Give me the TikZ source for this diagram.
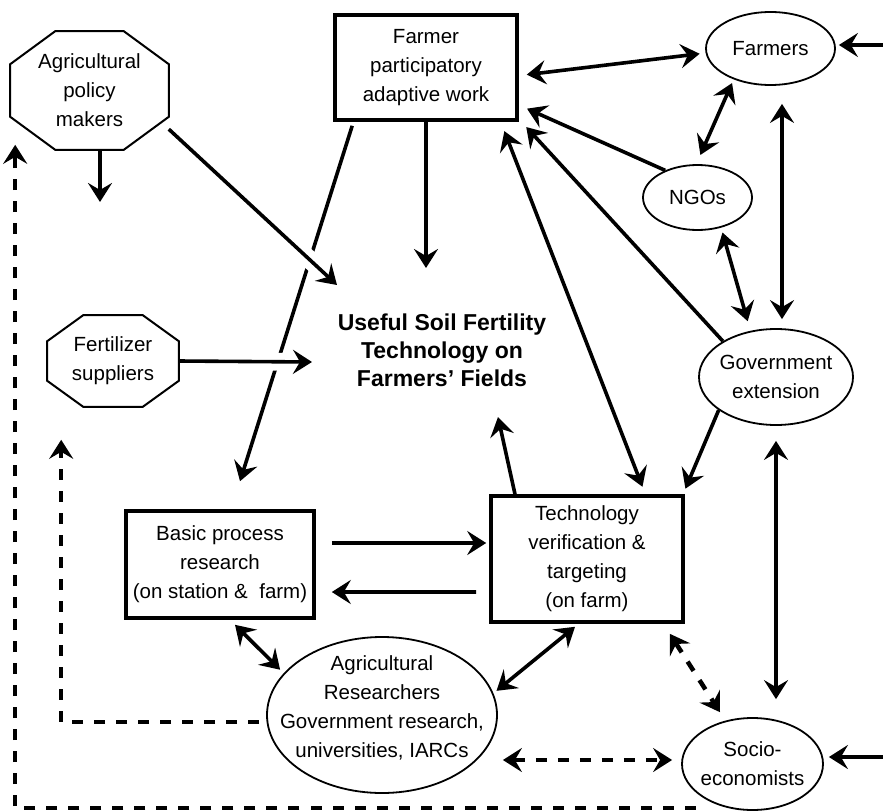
\documentclass[tikz,border=0pt]{standalone}
\usepackage{fontspec}
\setmainfont{Liberation Sans}
\usetikzlibrary{shapes.geometric,arrows.meta,calc}

\begin{document}
\begin{tikzpicture}[x=1bp, y=-1bp, line width=3.6bp,
    >={Stealth[length=19bp,width=24bp,inset=7bp]},
    every node/.style={font=\fontsize{20.5bp}{29bp}\selectfont, align=center, inner sep=0pt},
    box/.style={draw, line width=3.6bp},
    oval/.style={draw, ellipse, line width=1.8bp},
    dsh/.style={line width=4.5bp, dash pattern=on 11bp off 11bp},
    gap/.style={preaction={draw=white, line width=18bp, -, shorten <=24bp, shorten >=24bp}}]
\useasboundingbox (0,0) rectangle (883,811);
\coordinate (polout) at (100,202);
\coordinate (farmin) at (883,45);
\coordinate (socin) at (883,757);
% actors
\node[minimum width=155bp, minimum height=115bp] (pol) at (89.5,90.5) {Agricultural\\policy\\makers};
\node[minimum width=128bp, minimum height=88bp] (fert) at (113,361) {Fertilizer\\suppliers};
\node[box, minimum width=182bp, minimum height=105bp] (pw) at (426,67.5) {Farmer\\participatory\\adaptive work};
\node[oval, minimum width=129bp, minimum height=73bp, label={center:Farmers}] (farmers) at (770.5,48.5) {};
\node[oval, minimum width=109bp, minimum height=65bp, label={center:NGOs}] (ngos) at (697.5,197.5) {};
\node[oval, minimum width=154bp, minimum height=96bp, label={center:{Government\\extension}}] (gov) at (776,377) {};
\node[font=\bfseries\fontsize{23bp}{28bp}\selectfont] (useful) at (442,350) {Useful Soil Fertility\\Technology on\\Farmers’ Fields};
\node[box, minimum width=188bp, minimum height=107bp] (basic) at (220,564.5) {Basic process\\research\\(on station \&~ farm)};
\node[box, minimum width=192bp, minimum height=126bp] (tech) at (587,559) {Technology\\verification \&\\targeting\\(on farm)};
\node[oval, minimum width=230bp, minimum height=156bp, label={[yshift=7bp]center:{Agricultural\\Researchers\\Government research,\\universities, IARCs}}] (res) at (382,715) {};
\node[oval, minimum width=141bp, minimum height=92bp, label={center:{Socio-\\economists}}] (socio) at (752.5,764) {};
\foreach \oct/\dx/\dy in {pol/45/33, fert/36/26}
  \draw[line width=2bp] ($(\oct.north west)+(\dx,0)$) -- ($(\oct.north east)+(-\dx,0)$) -- ($(\oct.north east)+(0,\dy)$) -- ($(\oct.south east)+(0,-\dy)$) -- ($(\oct.south east)+(-\dx,0)$) -- ($(\oct.south west)+(\dx,0)$) -- ($(\oct.south west)+(0,-\dy)$) -- ($(\oct.north west)+(0,\dy)$) -- cycle;
% crossing lines
\draw[->] ($(pw.south west)+(19,4)$) -- ($(basic.north)+(20,-28)$);
\draw[->, gap] (pol.-26) -- ($(useful)+(-105,-65)$);
\draw[->, gap] (fert.east) -- ($(useful)+(-130,12)$);
% links
\draw[->] (pol.south -| polout) -- (polout);
\draw[->] (pw.south) -- ($(useful)+(-16,-82)$);
\draw[<->, shorten <=8bp, shorten >=6bp] (pw.-5) -- (farmers.184);
\draw[->, shorten >=9bp] (ngos.140) -- (pw.-22);
\draw[<->, shorten <=10bp, shorten >=4bp] (ngos.92) -- (farmers.220);
\draw[<->, shorten <=9bp, shorten >=18bp] ([xshift=6bp]gov.north) -- ([xshift=6bp]gov.north |- farmers.south);
\draw[<->, shorten <=5bp, shorten >=10bp] (ngos.-52) -- (gov.119);
\draw[->, shorten >=11bp] (gov.146) -- (pw.-29);
\draw[<->, shorten <=10bp, shorten >=8bp] (pw.-36) -- (tech.48);
\draw[->, shorten >=6bp] (gov.210) -- (tech.34);
\draw[->] ($(tech.north)+(-72,0)$) -- ($(useful)+(56,67)$);
\draw[->] ($(basic.east)+(16,-21.5)$) -- ($(tech.west)+(-3,-16)$);
\draw[->] ($(tech.west)+(-13,33)$) -- ($(basic.east)+(16,27.5)$);
\draw[<->, shorten >=5bp] ($(basic.south)+(15,5)$) -- (res.157);
\draw[<->, shorten >=4bp] ($(tech.south)+(-12,3)$) -- (res.11);
\draw[<->, shorten <=15bp, shorten >=18bp] (gov.south) -- (gov.south |- socio.north);
\draw[->, shorten >=3bp] (farmin) -- (farmin -| farmers.east);
\draw[->, shorten >=5bp] (socin) -- (socin -| socio.east);
% dashed links
\draw[<->, dsh, shorten >=10bp] ($(tech.south east)+(-15,10)$) -- (socio.122);
\draw[<->, dsh] ($(res.east)+(5,45)$) -- ($(socio.west)+(-9,-4)$);
\draw[->, dsh] ($(res.west)+(-7,7)$) -| ($(fert.south west)+(14,33)$);
\draw[->, dsh] ($(socio.south)+(-57,-3)$) -| ($(pol.south west)+(5,-5)$);
\end{tikzpicture}
\end{document}
